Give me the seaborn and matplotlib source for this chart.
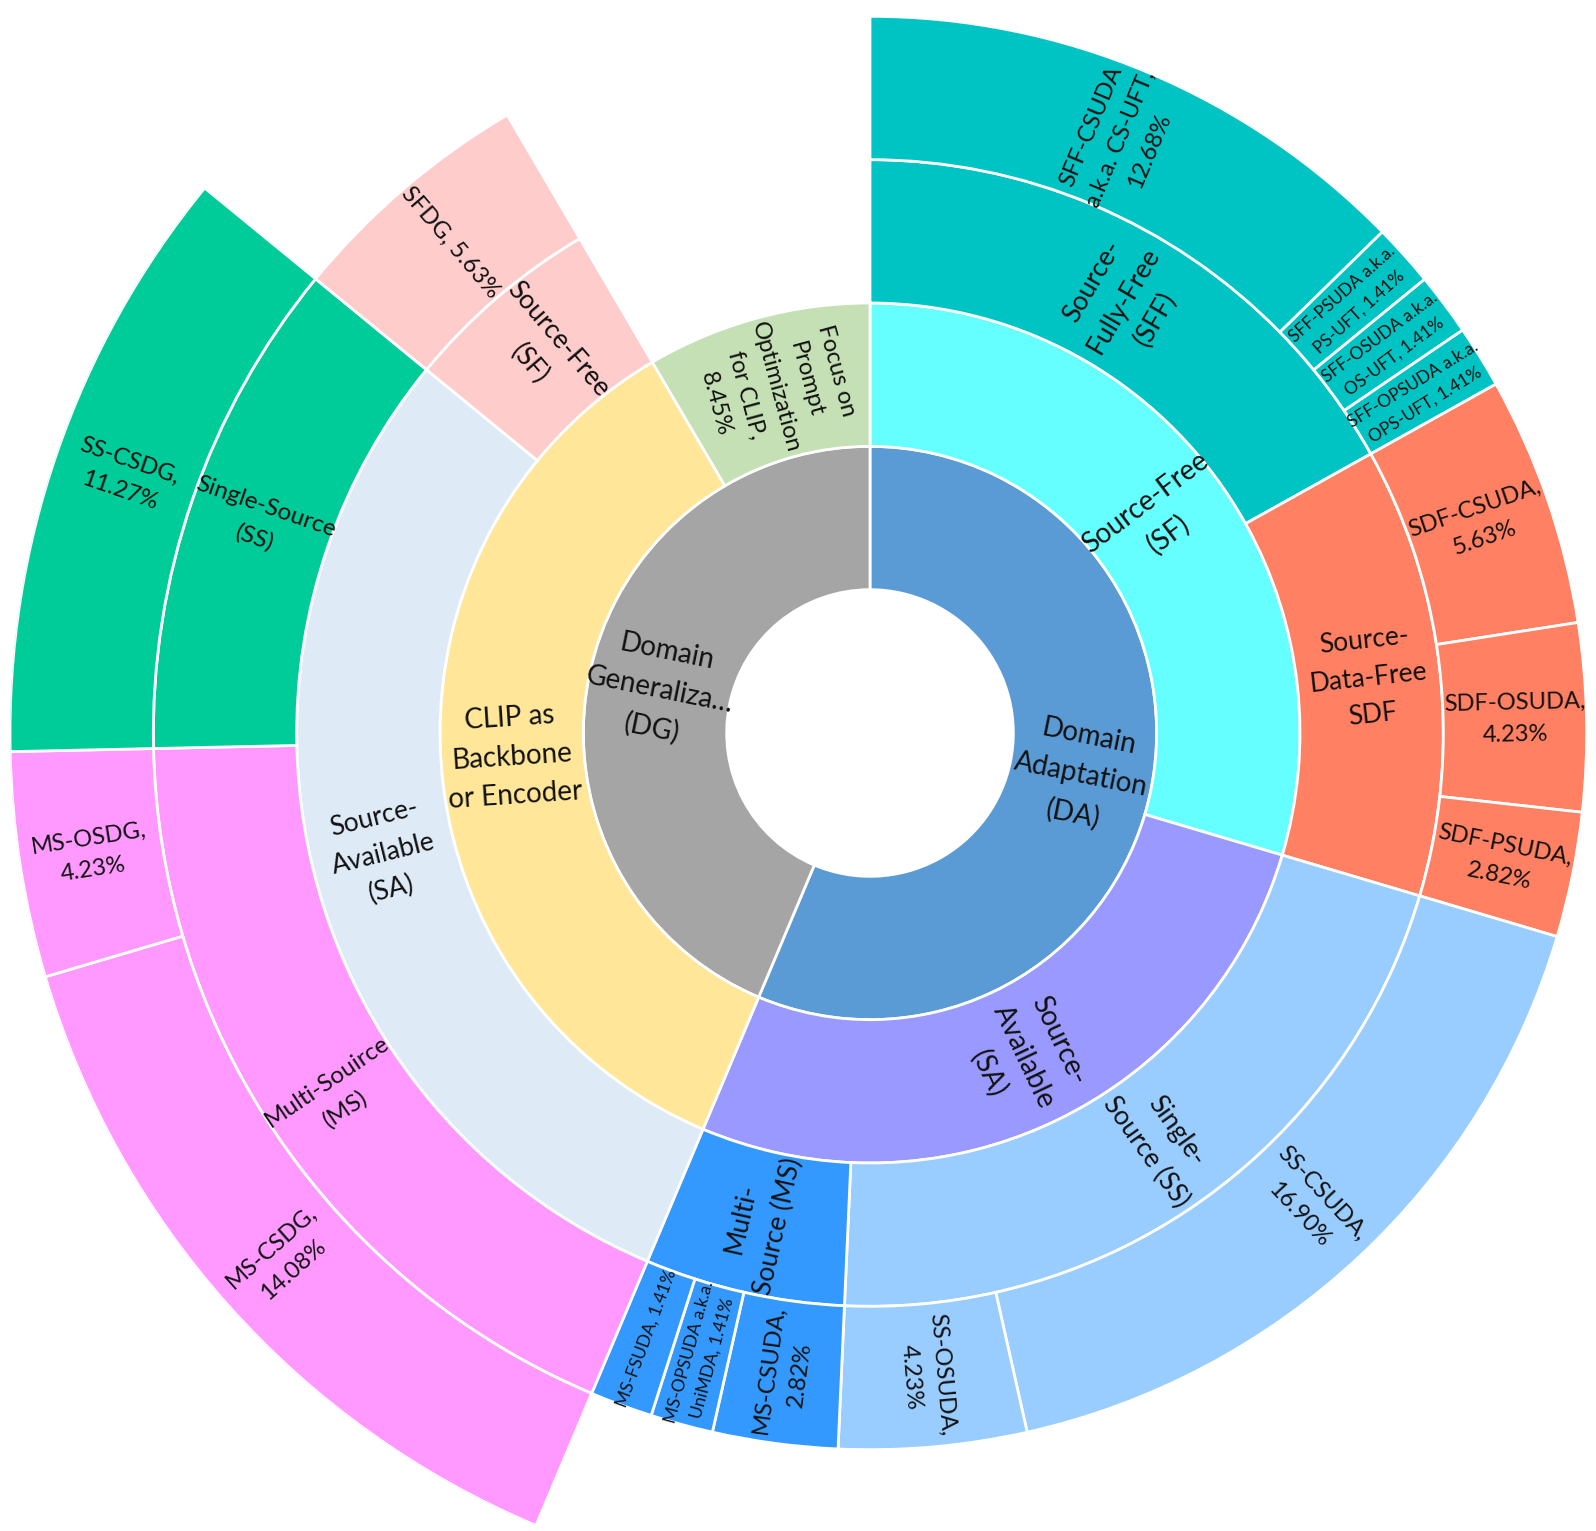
import numpy as np
import pandas as pd
import seaborn as sns
import matplotlib.pyplot as plt

# Hierarchy of the survey taxonomy, listed clockwise from 12 o'clock.
ids = ['DA', 'DA_SF', 'SFF', 'SFF_CS', 'SFF_PS', 'SFF_OS', 'SFF_OPS',
       'SDF', 'SDF_CS', 'SDF_OS', 'SDF_PS',
       'DA_SA', 'DA_SS', 'SS_CSUDA', 'SS_OSUDA', 'DA_MS', 'MS_CSUDA', 'MS_OPSUDA', 'MS_FSUDA',
       'DG', 'CLIP', 'DG_SA', 'DG_MS', 'MS_CSDG', 'MS_OSDG', 'DG_SS', 'SS_CSDG',
       'DG_SF', 'SFDG', 'FOCUS']
parents = ['', 'DA', 'DA_SF', 'SFF', 'SFF', 'SFF', 'SFF',
           'DA_SF', 'SDF', 'SDF', 'SDF',
           'DA', 'DA_SA', 'DA_SS', 'DA_SS', 'DA_SA', 'DA_MS', 'DA_MS', 'DA_MS',
           '', 'DG', 'CLIP', 'DG_SA', 'DG_MS', 'DG_MS', 'DG_SA', 'DG_SS',
           'CLIP', 'DG_SF', 'DG']
labels = ['Domain\nAdaptation\n(DA)', 'Source-Free\n(SF)', 'Source-\nFully-Free\n(SFF)',
          'SFF-CSUDA\na.k.a. CS-UFT,\n12.68%', 'SFF-PSUDA a.k.a.\nPS-UFT, 1.41%',
          'SFF-OSUDA a.k.a.\nOS-UFT, 1.41%', 'SFF-OPSUDA a.k.a.\nOPS-UFT, 1.41%',
          'Source-\nData-Free\nSDF', 'SDF-CSUDA,\n5.63%', 'SDF-OSUDA,\n4.23%', 'SDF-PSUDA,\n2.82%',
          'Source-\nAvailable\n(SA)', 'Single-\nSource (SS)', 'SS-CSUDA,\n16.90%', 'SS-OSUDA,\n4.23%',
          'Multi-\nSource (MS)', 'MS-CSUDA,\n2.82%', 'MS-OPSUDA a.k.a.\nUniMDA, 1.41%', 'MS-FSUDA, 1.41%',
          'Domain\nGeneraliza\u2026\n(DG)', 'CLIP as\nBackbone\nor Encoder', 'Source-\nAvailable\n(SA)',
          'Multi-Souirce\n(MS)', 'MS-CSDG,\n14.08%', 'MS-OSDG,\n4.23%', 'Single-Source\n(SS)',
          'SS-CSDG,\n11.27%', 'Source-Free\n(SF)', 'SFDG, 5.63%',
          'Focus on\nPrompt\nOptimization\nfor CLIP,\n8.45%']
# share of papers (%) on the leaves; inner nodes are the sum of their children
shares = [0, 0, 0, 12.68, 1.41, 1.41, 1.41,
          0, 5.63, 4.23, 2.82,
          0, 0, 16.90, 4.23, 0, 2.82, 1.41, 1.41,
          0, 0, 0, 0, 14.08, 4.23, 0, 11.27,
          0, 5.63, 8.45]

colors = {
    'DA': '#5B9BD5', 'DA_SF': '#66FFFF', 'SFF': '#00C4C4', 'SDF': '#FF8062',
    'DA_SA': '#9999FF', 'DA_SS': '#99CCFF', 'DA_MS': '#3399FF',
    'DG': '#A5A5A5', 'CLIP': '#FFE699', 'FOCUS': '#C5E0B4', 'DG_SA': '#DEEBF7',
    'DG_MS': '#FF99FF', 'DG_SS': '#00CC99', 'DG_SF': '#FFCCCC',
}

df = pd.DataFrame({'id': ids, 'parent': parents, 'label': labels, 'share': shares})
children = df.groupby('parent', sort=False)['id'].apply(list).to_dict()


def total(node):
    if node not in children:
        return df.loc[df['id'] == node, 'share'].iloc[0]
    return sum(total(c) for c in children[node])


grand = sum(total(n) for n in children[''])
rows = []


def place(node, start, depth, color):
    span = total(node) / grand * 2 * np.pi
    color = colors.get(node, color)
    rows.append((node, start, span, depth, color))
    pos = start
    for c in children.get(node, []):
        place(c, pos, depth + 1, color)
        pos += total(c) / grand * 2 * np.pi


pos = 0.0
for n in children['']:
    place(n, pos, 1, None)
    pos += total(n) / grand * 2 * np.pi

layout = pd.DataFrame(rows, columns=['id', 'start', 'span', 'depth', 'color']).merge(df, on='id')

sns.set_theme(style='white')
plt.rcParams['font.family'] = ['Lato', 'DejaVu Sans']

fig = plt.figure(figsize=(15.96, 15.31), dpi=100)
ax = fig.add_axes([10 / 1596, -62 / 1531, 1720 / 1596, 1720 / 1531], projection='polar')
ax.set_theta_zero_location('N')
ax.set_theta_direction(-1)

ax.bar(layout['start'] + layout['span'] / 2, 1, width=layout['span'], bottom=layout['depth'],
       color=layout['color'], edgecolor='white', linewidth=2, align='center')

for _, r in layout.iterrows():
    mid = r['start'] + r['span'] / 2
    ang = 90 - np.degrees(mid)
    rot = (ang + 90) % 180 - 90
    if r['share'] == 0:
        size = {1: 20, 2: 20, 3: 19}.get(r['depth'], 17.5)
    elif r['share'] < 2:
        size = 12.5
    else:
        size = 17
    ax.text(mid, r['depth'] + 0.5, r['label'], rotation=rot, rotation_mode='anchor',
            ha='center', va='center', fontsize=size, color='#111111', linespacing=1.6)

ax.set_ylim(0, 6)
ax.set_axis_off()
fig.savefig('out.png', dpi=100)
